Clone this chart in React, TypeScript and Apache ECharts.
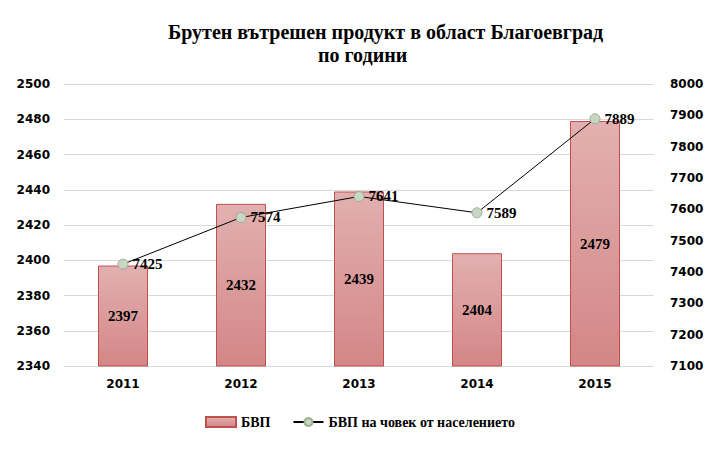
import React, { useEffect, useRef } from "react";
import * as echarts from "echarts";

const categories = ["2011", "2012", "2013", "2014", "2015"];
const gdpValues = [2397, 2432, 2439, 2404, 2479];
const gdpPerCapita = [7425, 7574, 7641, 7589, 7889];
const titleLine1 = "Брутен вътрешен продукт в област Благоевград";
const titleLine2 = "по години";
const seriesNames = ["БВП", "БВП на човек от населението"];

export default function App() {
  const ref = useRef<HTMLDivElement>(null);
  useEffect(() => {
    document.body.style.margin = "0";
    if (!ref.current) return;
    const chart = echarts.init(ref.current, null, { renderer: "svg" });
    const serif = "'Liberation Serif', 'DejaVu Serif', serif";
    const sans = "'DejaVu Sans', sans-serif";
    const plain = (v: number) => String(v);
    chart.setOption({
      animation: false,
      backgroundColor: "#ffffff",
      graphic: [
        {
          type: "text",
          left: 168,
          top: 22,
          style: { text: titleLine1, font: `bold 20px ${serif}`, fill: "#000" },
        },
        {
          type: "text",
          left: 318,
          top: 45,
          style: { text: titleLine2, font: `bold 20px ${serif}`, fill: "#000" },
        },
      ],
      legend: {
        left: 200,
        top: 410,
        itemWidth: 30,
        itemHeight: 10,
        itemGap: 22,
        textStyle: { fontFamily: serif, fontWeight: "bold", fontSize: 14, color: "#000" },
        data: [
          { name: seriesNames[0], icon: "rect" },
          { name: seriesNames[1] },
        ],
      },
      grid: { left: 64, right: 66, top: 84, bottom: 83 },
      xAxis: {
        type: "category",
        data: categories,
        axisLine: { show: false },
        axisTick: { show: false },
        axisLabel: { fontFamily: sans, fontWeight: "bold", fontSize: 12, color: "#000", margin: 12 },
      },
      yAxis: [
        {
          type: "value",
          min: 2340,
          max: 2500,
          interval: 20,
          axisLine: { show: false },
          axisTick: { show: false },
          splitLine: { lineStyle: { color: "#d9d9d9", width: 1 } },
          axisLabel: { fontFamily: sans, fontWeight: "bold", fontSize: 12, color: "#000", margin: 14, formatter: plain },
        },
        {
          type: "value",
          min: 7100,
          max: 8000,
          interval: 100,
          position: "right",
          axisLine: { show: false },
          axisTick: { show: false },
          splitLine: { show: false },
          axisLabel: { fontFamily: sans, fontWeight: "bold", fontSize: 12, color: "#000", margin: 16, formatter: plain },
        },
      ],
      series: [
        {
          name: seriesNames[0],
          type: "bar",
          data: gdpValues,
          barWidth: 50,
          itemStyle: {
            color: new echarts.graphic.LinearGradient(0, 0, 0, 1, [
              { offset: 0, color: "#e2b0b0" },
              { offset: 1, color: "#d48686" },
            ]),
            borderColor: "#c0504d",
            borderWidth: 1,
          },
          label: {
            show: true,
            position: "inside",
            fontFamily: serif,
            fontWeight: "bold",
            fontSize: 15,
            color: "#000",
          },
        },
        {
          name: seriesNames[1],
          type: "line",
          yAxisIndex: 1,
          data: gdpPerCapita,
          symbol: "circle",
          symbolSize: 10,
          lineStyle: { color: "#000", width: 1 },
          itemStyle: { color: "#c9d6c3", borderColor: "#9aae90", borderWidth: 1 },
          label: {
            show: true,
            position: "right",
            distance: 4,
            fontFamily: serif,
            fontWeight: "bold",
            fontSize: 15,
            color: "#000",
          },
        },
      ],
    });
    return () => chart.dispose();
  }, []);
  return <div ref={ref} style={{ width: 720, height: 449 }} />;
}
